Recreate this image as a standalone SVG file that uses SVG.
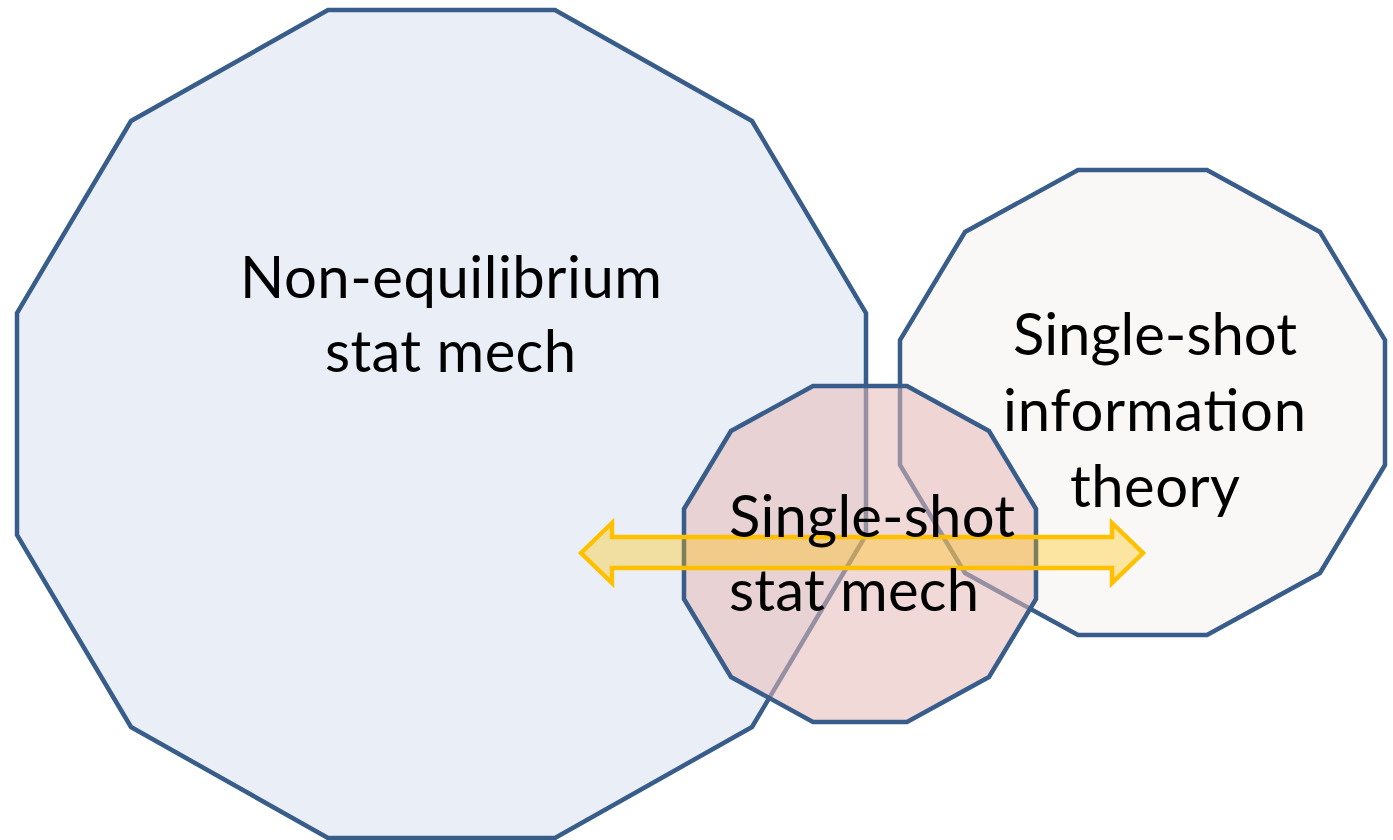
<svg xmlns="http://www.w3.org/2000/svg" width="1393" height="840" viewBox="0 0 1393 840">
<style>
.poly{stroke:#385D8A;stroke-width:4.5;stroke-linejoin:miter}
.big{fill:#EAEFF7}
.right{fill:#FAF7F7}
.small{fill:#E6B9B8;fill-opacity:0.55}
.arrow{fill:#FFC000;fill-opacity:0.35;stroke:#FFC000;stroke-width:4.5;stroke-linejoin:miter}
.lbl{font-family:Lato,"Open Sans","Liberation Sans",sans-serif;font-size:58px;fill:#000}
</style>
<rect width="1393" height="840" fill="#FFFFFF"/>
<g id="node-nonequilibrium">
<polygon class="poly big" points="866,535 752,727 555,838 328,838 131,727 17,535 17,313 131,121 328,10 555,10 752,121 866,313"/>
</g>
<g id="node-info-theory">
<polygon class="poly right" points="1385,465 1320,573 1207,635 1078,635 965,573 900,465 900,340 965,232 1078,170 1207,170 1320,232 1385,340"/>
</g>
<g id="node-single-shot-stat-mech">
<polygon class="poly small" points="1036,599 989,677 907,722 813,722 731,677 684,599 684,509 731,431 813,386 907,386 989,431 1036,509"/>
</g>
<g id="connectors">
<polygon class="arrow" points="581,553 612,523 612,537 1112,537 1112,523 1143,553 1112,583 1112,568 612,568 612,583"/>
</g>
<g id="labels">
<text class="lbl" x="240" y="298" textLength="422" lengthAdjust="spacing">Non-equilibrium</text>
<text class="lbl" x="325" y="372" textLength="251" lengthAdjust="spacing">stat mech</text>
<text class="lbl" x="1013" y="355" textLength="284" lengthAdjust="spacing">Single-shot</text>
<text class="lbl" x="1003" y="431" textLength="303" lengthAdjust="spacing">information</text>
<text class="lbl" x="1070" y="507" textLength="170" lengthAdjust="spacing">theory</text>
<text class="lbl" x="729" y="537" textLength="286" lengthAdjust="spacing">Single-shot</text>
<text class="lbl" x="729" y="611" textLength="250" lengthAdjust="spacing">stat mech</text>
</g>
</svg>
